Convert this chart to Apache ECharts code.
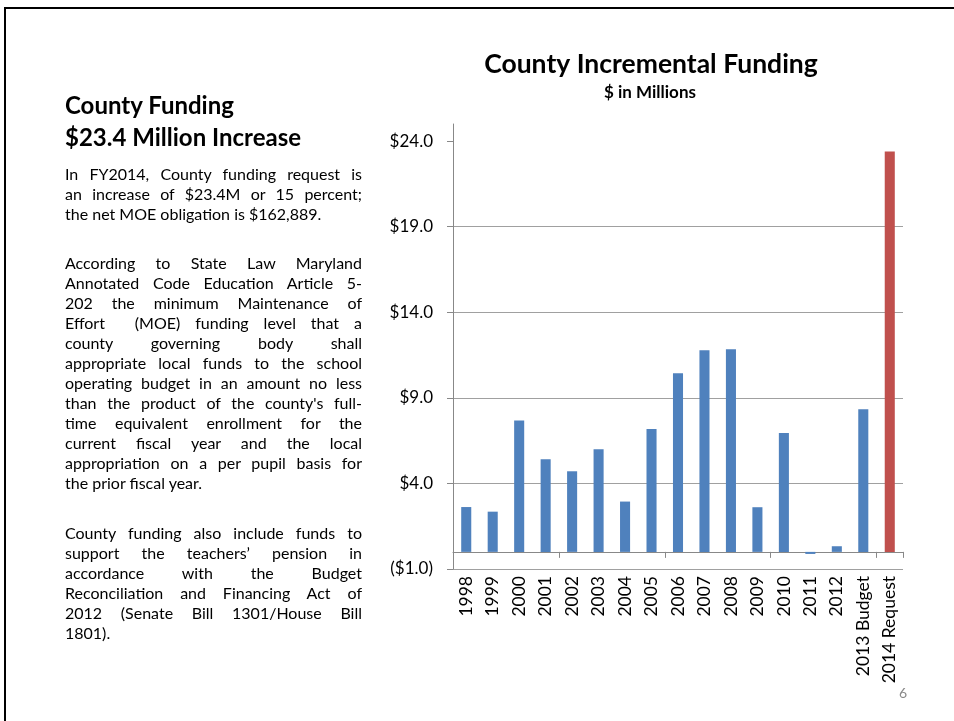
<!DOCTYPE html>
<html>
<head>
<meta charset="utf-8">
<script src="https://cdn.jsdelivr.net/npm/echarts@6/dist/echarts.min.js"></script>
<style>
  html, body { margin:0; padding:0; width:954px; height:721px; overflow:hidden; background:#fff; }
  #chart { position:absolute; left:0; top:0; width:954px; height:721px; }
  #frame { position:absolute; left:4px; top:7px; width:2000px; height:2000px; border-left:2px solid #000; border-top:2px solid #000; }
  .txt { position:absolute; font-family:Lato, "Open Sans", sans-serif; color:#000; }
  #head { left:65px; top:89px; font-weight:bold; font-size:24px; line-height:32px; }
  .para { left:65px; width:297px; font-size:16px; line-height:20px; }
  .para span { display:block; text-align:justify; text-align-last:justify; white-space:pre-wrap; }
  .para span.last { text-align-last:left; }
  #pg { left:899px; top:684px; font-size:14px; color:#8a8a8a; }
</style>
</head>
<body>
<div id="chart"></div>
<div id="frame"></div>
<div class="txt" id="head">County Funding<br>$23.4 Million Increase</div>
<div class="txt para" style="top:164px">
<span>In FY2014, County funding request is</span>
<span>an increase of $23.4M or 15 percent;</span>
<span class="last">the net MOE obligation is $162,889.</span>
</div>
<div class="txt para" style="top:253px">
<span>According to State Law Maryland</span>
<span>Annotated Code Education Article 5-</span>
<span>202 the minimum Maintenance of</span>
<span>Effort  (MOE) funding level that a</span>
<span>county governing body shall</span>
<span>appropriate local funds to the school</span>
<span>operating budget in an amount no less</span>
<span>than the product of the county's full-</span>
<span>time equivalent enrollment for the</span>
<span>current fiscal year and the local</span>
<span>appropriation on a per pupil basis for</span>
<span class="last">the prior fiscal year.</span>
</div>
<div class="txt para" style="top:523px">
<span>County funding also include funds to</span>
<span>support the teachers’ pension in</span>
<span>accordance with the Budget</span>
<span>Reconciliation and Financing Act of</span>
<span>2012 (Senate Bill 1301/House Bill</span>
<span class="last">1801).</span>
</div>
<div class="txt" id="pg">6</div>
<script>
const categories = ['1998','1999','2000','2001','2002','2003','2004','2005','2006','2007','2008','2009','2010','2011','2012','2013 Budget','2014 Request'];
const values = [2.62, 2.35, 7.67, 5.41, 4.71, 6.0, 2.94, 7.18, 10.44, 11.78, 11.84, 2.61, 6.95, -0.12, 0.33, 8.33, 23.4];
const highlightCategory = '2014 Request';
const yTicks = [-1, 4, 9, 14, 19, 24];
const FONT = 'Lato, "Open Sans", sans-serif';

const chart = echarts.init(document.getElementById('chart'));
const fmt = v => v < 0 ? '($' + Math.abs(v).toFixed(1) + ')' : '$' + v.toFixed(1);
chart.setOption({
  animation: false,
  graphic: [
    { type: 'text', x: 651, y: 64, style: { text: 'County Incremental Funding', font: 'bold 26.5px ' + FONT, fill: '#000', textAlign: 'center', textVerticalAlign: 'middle' } },
    { type: 'text', x: 650, y: 93, style: { text: '$ in Millions', font: 'bold 17px ' + FONT, fill: '#000', textAlign: 'center', textVerticalAlign: 'middle' } }
  ],
  grid: { left: 453, right: 51, top: 124, bottom: 152, containLabel: false },
  xAxis: [
    {
      type: 'category', data: categories, position: 'top',
      axisLine: { onZero: true, lineStyle: { color: '#888', width: 1 } },
      axisTick: { show: true, inside: true, length: 6, lineStyle: { color: '#888' } },
      axisLabel: { show: false }, splitLine: { show: false }
    },
    {
      type: 'category', data: categories, position: 'bottom',
      axisLine: { show: false, onZero: false }, axisTick: { show: false },
      axisLabel: { rotate: 90, margin: 7, fontSize: 17.5, color: '#000', fontFamily: FONT, interval: 0 },
      splitLine: { show: false }
    }
  ],
  yAxis: {
    type: 'value', min: -1, max: 25, interval: 5,
    axisLine: { show: true, lineStyle: { color: '#888' } },
    axisTick: { show: true, length: 6, customValues: yTicks, lineStyle: { color: '#888' } },
    axisLabel: { customValues: yTicks, formatter: fmt, fontSize: 17, color: '#000', fontFamily: FONT, margin: 20 },
    splitLine: { show: true, showMaxLine: false, lineStyle: { color: '#a0a0a0' } }
  },
  series: [{
    type: 'bar', xAxisIndex: 0, data: values, barWidth: '38%',
    itemStyle: { color: p => p.name === highlightCategory ? '#C0504D' : '#4F81BD' }
  }]
});
</script>
</body>
</html>
